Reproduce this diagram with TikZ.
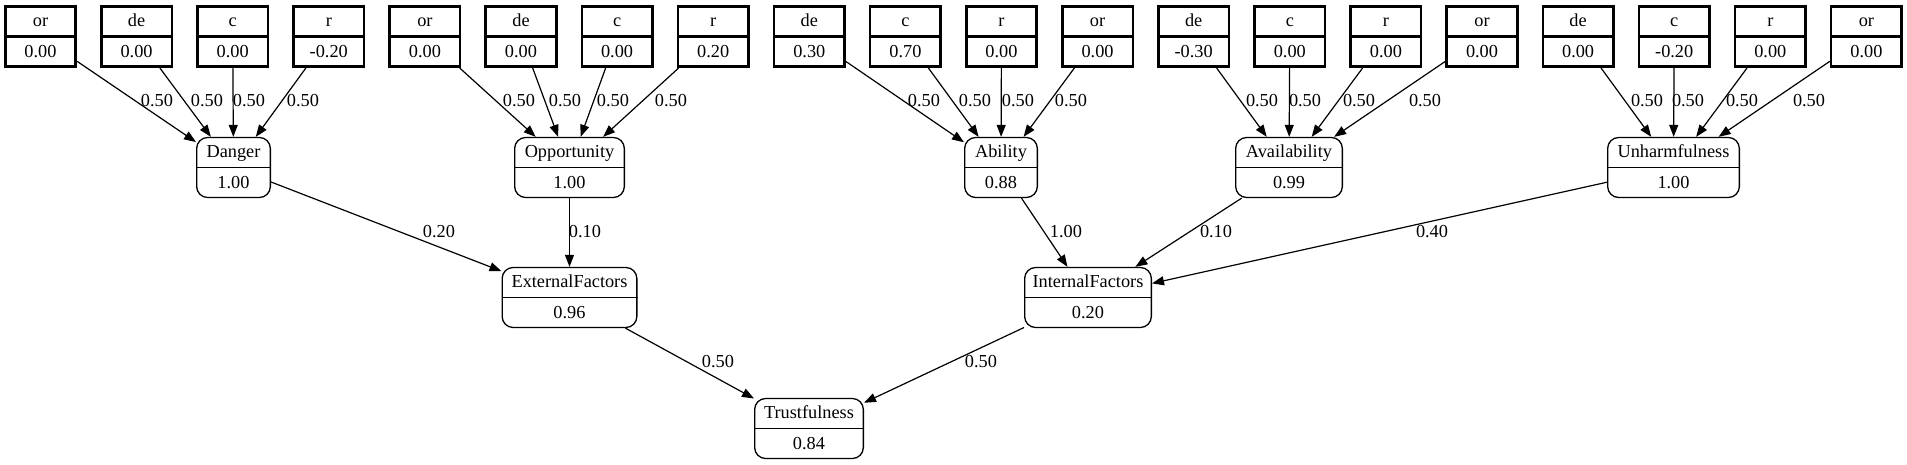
\documentclass[tikz,border=0pt]{standalone}
\usepackage{fontspec}
\setmainfont{Liberation Serif}
\usetikzlibrary{arrows.meta}
\newcommand\fsz{\fontsize{18.3}{22}\selectfont}
\tikzset{
  leaf/.style={draw, line width=2.6pt, minimum width=70.5pt, minimum height=60.5pt, inner sep=0pt},
  leafdiv/.style={line width=2.2pt},
  agg/.style={draw, line width=1.3pt, rounded corners=11pt, minimum height=60pt, inner sep=0pt},
  aggdiv/.style={line width=1.3pt},
  txt/.style={anchor=base, inner sep=0pt, font=\fsz},
  edge/.style={line width=1.2pt, -{Triangle[length=12pt,width=9pt]}},
  lbl/.style={anchor=base, inner sep=0pt, font=\fsz},
}
\newcommand\gvbox[7]{%
  \node[#2, minimum width=#5pt] (#1) at (#3pt,-#4pt) {};
  \draw[#2div] (#1.west) -- (#1.east);
  \node[txt] (#1-t) at ([yshift=9.8pt]#1.center) {#6};
  \node[txt] (#1-v) at ([yshift=-20.8pt]#1.center) {#7};
}
\begin{document}
\begin{tikzpicture}[x=1pt,y=1pt]
\useasboundingbox (0,0) rectangle (1907,-465);
% aggregate nodes
\gvbox{Danger}{agg}{233.5}{167.5}{73.7}{Danger}{1.00}
\gvbox{Opportunity}{agg}{569.5}{167.5}{109.7}{Opportunity}{1.00}
\gvbox{Ability}{agg}{1001}{167.5}{72.7}{Ability}{0.88}
\gvbox{Availability}{agg}{1289}{167.5}{106.7}{Availability}{0.99}
\gvbox{Unharmfulness}{agg}{1673.5}{167.5}{131.7}{Unharmfulness}{1.00}
\gvbox{ExternalFactors}{agg}{569.5}{297.5}{134.7}{ExternalFactors}{0.96}
\gvbox{InternalFactors}{agg}{1088}{297.5}{126.7}{InternalFactors}{0.20}
\gvbox{Trustfulness}{agg}{809}{428.5}{108.7}{Trustfulness}{0.84}
% leaf nodes and their edges
\foreach \i/\l/\v/\tg/\lx in {
  0/or/0.00/Danger/157, 1/de/0.00/Danger/207, 2/c/0.00/Danger/249, 3/r/-0.20/Danger/303,
  4/or/0.00/Opportunity/519, 5/de/0.00/Opportunity/565, 6/c/0.00/Opportunity/613, 7/r/0.20/Opportunity/671,
  8/de/0.30/Ability/924, 9/c/0.70/Ability/975, 10/r/0.00/Ability/1018, 11/or/0.00/Ability/1071,
  12/de/-0.30/Availability/1262, 13/c/0.00/Availability/1305, 14/r/0.00/Availability/1359, 15/or/0.00/Availability/1425,
  16/de/0.00/Unharmfulness/1647, 17/c/-0.20/Unharmfulness/1688, 18/r/0.00/Unharmfulness/1742, 19/or/0.00/Unharmfulness/1809}{
  \pgfmathsetmacro\bx{40.5+96.1*\i}
  \gvbox{t\i}{leaf}{\bx}{36.5}{70.5}{\l}{\v}
  \draw[edge] (t\i) -- (\tg) node[lbl] (l\i) at (\lx,-107) {0.50};
}
% inner edges
\draw[edge] (Danger) -- (ExternalFactors) node[lbl] (lDE) at (439,-238) {0.20};
\draw[edge] (Opportunity) -- (ExternalFactors) node[lbl] (lOE) at (585,-238) {0.10};
\draw[edge] (Ability) -- (InternalFactors) node[lbl] (lAI) at (1066,-238) {1.00};
\draw[edge] (Availability) -- (InternalFactors) node[lbl] (lVI) at (1216,-238) {0.10};
\draw[edge] (Unharmfulness) -- (InternalFactors) node[lbl] (lUI) at (1432,-238) {0.40};
\draw[edge] (ExternalFactors) -- (Trustfulness) node[lbl] (lET) at (718,-367) {0.50};
\draw[edge] (InternalFactors) -- (Trustfulness) node[lbl] (lIT) at (981,-367) {0.50};
\end{tikzpicture}
\end{document}
